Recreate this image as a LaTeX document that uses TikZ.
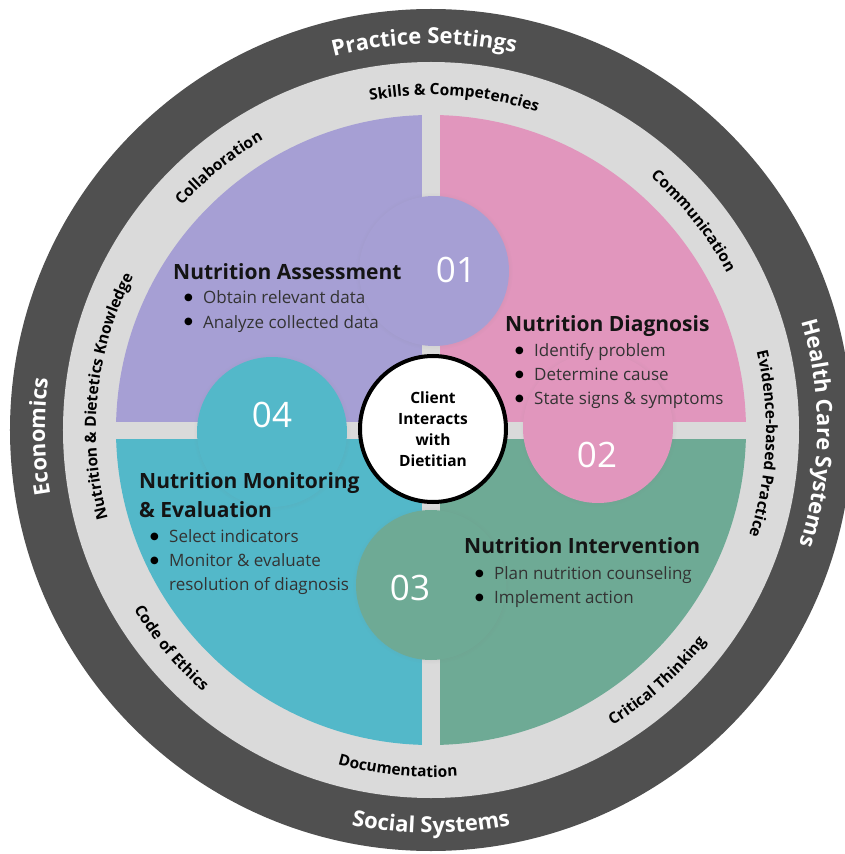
\documentclass[tikz,border=0pt]{standalone}
\usepackage{fontspec}
\setmainfont{Open Sans}
\newfontfamily\symfont{DejaVu Sans}
\usetikzlibrary{decorations.text,shadows}

\definecolor{ringdark}{HTML}{505050}
\definecolor{ringlight}{HTML}{DADADA}
\definecolor{assess}{HTML}{A69FD4}
\definecolor{diagn}{HTML}{E196BD}
\definecolor{interv}{HTML}{6EAA95}
\definecolor{monit}{HTML}{53B8C9}
\definecolor{bodytext}{HTML}{333333}
\definecolor{headtext}{HTML}{141414}

% curved label, read clockwise (letter tops point outwards)
\newcommand\cwlabel[5]{%
  \path[decorate,decoration={text along path,text align=center,
    text={|\fontsize{#3}{#3}\selectfont\bfseries\color{#4}|#5}}]
    (#1+60:#2) arc[start angle=#1+60,end angle=#1-60,radius=#2];}
% curved label, read counter-clockwise (letter tops point inwards)
\newcommand\ccwlabel[5]{%
  \path[decorate,decoration={text along path,text align=center,
    text={|\fontsize{#3}{#3}\selectfont\bfseries\color{#4}|#5}}]
    (#1-60:#2) arc[start angle=#1-60,end angle=#1+60,radius=#2];}
% list bullet: a solid black dot followed by a fixed indent
\newcommand\bul{\makebox[19pt][l]{\raisebox{3pt}{\color{black}\symfont\fontsize{10}{10}\selectfont ●}}}

\begin{document}
\begin{tikzpicture}[x=1pt,y=1pt,
  stage/.style={circle,inner sep=0pt,minimum size=150pt,
    circular drop shadow={shadow xshift=0pt,shadow yshift=0pt,shadow scale=1.05,opacity=0.2}},
  num/.style={text=white,font=\fontsize{35}{35}\selectfont,inner sep=0pt},
  head/.style={anchor=base west,inner sep=0pt,text=headtext,font=\fontsize{21}{24}\selectfont\bfseries},
  item/.style={anchor=base west,inner sep=0pt,text=bodytext,font=\fontsize{17}{20}\selectfont}]
\useasboundingbox (-431,-424) rectangle (414,430);

% rings
\fill[ringdark] (0,0) circle (421);
\fill[ringlight] (0,0) circle (368);

% four quadrants separated by a light cross
\def\qr{315}\def\gap{9}
\begin{scope}
  \clip (-\gap,\gap) rectangle (-400,400);
  \fill[assess] (0,0) circle (\qr);
\end{scope}
\begin{scope}
  \clip (\gap,\gap) rectangle (400,400);
  \fill[diagn] (0,0) circle (\qr);
\end{scope}
\begin{scope}
  \clip (\gap,-\gap) rectangle (400,-400);
  \fill[interv] (0,0) circle (\qr);
\end{scope}
\begin{scope}
  \clip (-\gap,-\gap) rectangle (-400,-400);
  \fill[monit] (0,0) circle (\qr);
\end{scope}

% step circles
\node[stage,fill=assess] (c1) at (3,159) {};
\node[stage,fill=diagn] (c2) at (167,2) {};
\node[stage,fill=interv] (c3) at (0,-155) {};
\node[stage,fill=monit] (c4) at (-159,-2) {};
\node[num] (n1) at (25,160) {01};
\node[num] (n2) at (166,-25) {02};
\node[num] (n3) at (-21,-158) {03};
\node[num] (n4) at (-159,15) {04};

% outer ring labels
\cwlabel{91}{386}{22}{white}{Practice Settings}
\cwlabel{-0.5}{386}{22}{white}{Health Care Systems}
\ccwlabel{270}{403}{22}{white}{Social Systems}
\cwlabel{181}{386}{22}{white}{Economics}

% inner ring labels
\cwlabel{86}{335}{15.5}{black}{Skills {\&} Competencies}
\cwlabel{38.5}{335}{15.5}{black}{Communication}
\cwlabel{-2.4}{335}{15.5}{black}{Evidence-based Practice}
\ccwlabel{-48}{347}{15.5}{black}{Critical Thinking}
\ccwlabel{264.4}{347}{15.5}{black}{Documentation}
\ccwlabel{220}{347}{15.5}{black}{Code of Ethics}
\cwlabel{174}{335}{15.5}{black}{Nutrition {\&} Dietetics Knowledge}
\cwlabel{129}{335}{15.5}{black}{Collaboration}

% step texts
\node[head] (h1) at (-258,150) {Nutrition Assessment};
\node[item] (h1a) at (-247,126) {\bul Obtain relevant data};
\node[item] (h1b) at (-247,102) {\bul Analyze collected data};

\node[head] (h2) at (74,99) {Nutrition Diagnosis};
\node[item] (h2a) at (84,74) {\bul Identify problem};
\node[item] (h2b) at (84,50) {\bul Determine cause};
\node[item] (h2c) at (84,26) {\bul State signs \& symptoms};

\node[head] (h3) at (33,-123) {Nutrition Intervention};
\node[item] (h3a) at (44,-149) {\bul Plan nutrition counseling};
\node[item] (h3b) at (44,-173) {\bul Implement action};

\node[head] (h4) at (-292,-58) {Nutrition Monitoring};
\node[head] (h4b) at (-292,-87) {\& Evaluation};
\node[item] (h4c) at (-281,-112) {\bul Select indicators};
\node[item] (h4d) at (-281,-136) {\bul Monitor \& evaluate};
\node[item] (h4e) at (-281,-160) {\makebox[19pt]{}resolution of diagnosis};

% centre
\node[circle,draw=black,line width=4pt,fill=white,minimum size=146pt,inner sep=0pt,
  align=center,font=\fontsize{15.5}{21}\selectfont\bfseries] (client) at (2,1)
  {Client\\Interacts\\with\\Dietitian};
\end{tikzpicture}
\end{document}
